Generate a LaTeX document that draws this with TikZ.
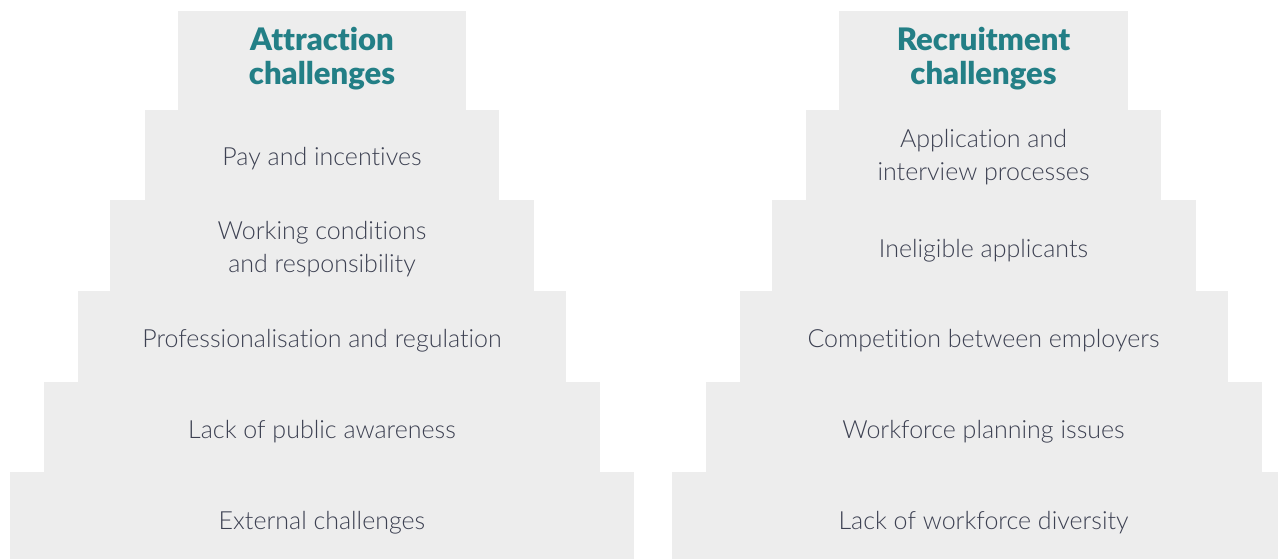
\documentclass[tikz,border=0pt]{standalone}
\usepackage{fontspec}
\setmainfont{Lato}
\newfontfamily\bodyfont{Lato Light}[Ligatures=NoCommon]
\newfontfamily\headfont{Lato Black}[Ligatures=NoCommon]
\definecolor{stepfill}{HTML}{EDEDED}
\definecolor{headteal}{HTML}{237F86}
\definecolor{bodyink}{HTML}{3D4152}
\begin{document}
\begin{tikzpicture}[x=1pt,y=-1pt,
  stepbox/.style={fill=stepfill,draw=none},
  headtext/.style={font=\headfont\fontsize{31}{34}\selectfont,text=headteal,align=center,anchor=base,inner sep=0pt},
  bodytext/.style={font=\bodyfont\fontsize{25}{33}\selectfont,text=bodyink,align=center,anchor=base,inner sep=0pt}]
\useasboundingbox (0,0) rectangle (1278,559);
\clip (0,0) rectangle (1278,559);
% left stair: attraction
\fill[stepbox] (178,11) rectangle (466,110);
\fill[stepbox] (145,110) rectangle (499,200);
\fill[stepbox] (110,200) rectangle (534,291);
\fill[stepbox] (78,291) rectangle (566,382);
\fill[stepbox] (44,382) rectangle (600,472);
\fill[stepbox] (10,472) rectangle (634,559);
% right stair: recruitment
\fill[stepbox] (839,11) rectangle (1128,110);
\fill[stepbox] (806,110) rectangle (1161,200);
\fill[stepbox] (772,200) rectangle (1196,291);
\fill[stepbox] (740,291) rectangle (1228,382);
\fill[stepbox] (706,382) rectangle (1262,472);
\fill[stepbox] (672,472) rectangle (1295,559);
% labels, left (placed on their last baseline)
\node[headtext] (la0) at (322,85) {Attraction\\challenges};
\node[bodytext] (la1) at (322,166) {Pay and incentives};
\node[bodytext] (la2) at (322,272) {Working conditions\\and responsibility};
\node[bodytext] (la3) at (322,347) {Professionalisation and regulation};
\node[bodytext] (la4) at (322,438) {Lack of public awareness};
\node[bodytext] (la5) at (322,529) {External challenges};
% labels, right
\node[headtext] (ra0) at (983.5,85) {Recruitment\\challenges};
\node[bodytext] (ra1) at (983.5,181) {Application and\\interview processes};
\node[bodytext] (ra2) at (983.5,257) {Ineligible applicants};
\node[bodytext] (ra3) at (983.5,347) {Competition between employers};
\node[bodytext] (ra4) at (983.5,438) {Workforce planning issues};
\node[bodytext] (ra5) at (983.5,529) {Lack of workforce diversity};
\end{tikzpicture}
\end{document}
